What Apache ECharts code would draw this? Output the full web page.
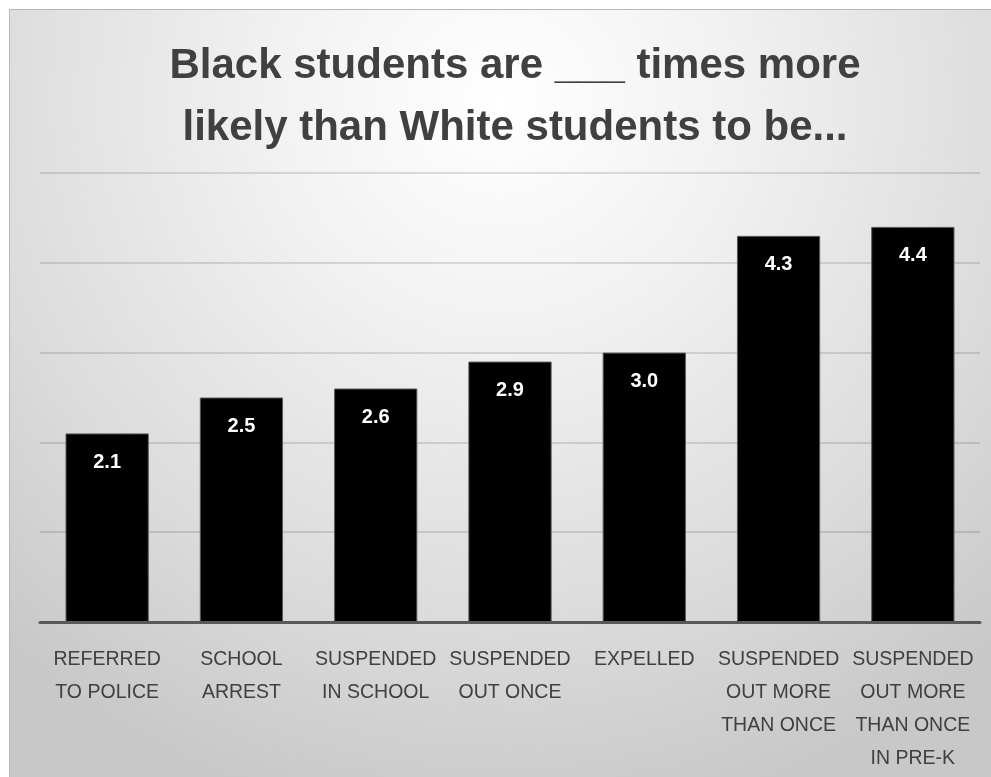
<!DOCTYPE html>
<html>
<head>
<meta charset="utf-8">
<script src="https://cdn.jsdelivr.net/npm/echarts@6/dist/echarts.min.js"></script>
<style>
  html, body { margin: 0; padding: 0; background: #ffffff; }
  #frame {
    position: absolute; left: 9px; top: 9px; width: 982px; height: 768px;
    border-left: 1px solid #b8b8b8; border-top: 1px solid #b8b8b8;
    box-sizing: border-box;
    background: radial-gradient(ellipse 75% 95% at 50% 12%, #ffffff 0%, #f2f2f2 30%, #dcdcdc 70%, #c8c8c8 100%);
  }
  #chart { position: absolute; left: 0; top: 0; width: 991px; height: 777px; }
</style>
</head>
<body>
<div id="frame"></div>
<div id="chart"></div>
<script>
// Disparity ratios by discipline outcome
const categories = [
  'REFERRED\nTO POLICE',
  'SCHOOL\nARREST',
  'SUSPENDED\nIN SCHOOL',
  'SUSPENDED\nOUT ONCE',
  'EXPELLED',
  'SUSPENDED\nOUT MORE\nTHAN ONCE',
  'SUSPENDED\nOUT MORE\nTHAN ONCE\nIN PRE-K'
];
const ratios = [2.1, 2.5, 2.6, 2.9, 3.0, 4.3, 4.4];
const titleText = 'Black students are ___ times more\nlikely than White students to be...';

const chart = echarts.init(document.getElementById('chart'), null, { renderer: 'canvas' });
chart.setOption({
  backgroundColor: 'transparent',
  animation: false,
  title: {
    text: titleText,
    left: 510,
    textAlign: 'center',
    top: 30,
    textStyle: {
      fontFamily: 'Liberation Sans',
      fontWeight: 'bold',
      fontSize: 42,
      lineHeight: 62,
      color: '#404040'
    }
  },
  grid: { left: 40, right: 11, top: 173, bottom: 155 },
  xAxis: {
    type: 'category',
    data: categories,
    axisTick: { show: false },
    axisLine: { lineStyle: { color: '#595959', width: 3 } },
    axisLabel: {
      interval: 0,
      margin: 21,
      fontFamily: 'Liberation Sans',
      fontSize: 19.5,
      lineHeight: 33,
      color: '#404040',
      verticalAlign: 'top'
    }
  },
  yAxis: {
    type: 'value',
    min: 0,
    max: 5,
    interval: 1,
    axisLabel: { show: false },
    axisLine: { show: false },
    axisTick: { show: false },
    splitLine: { lineStyle: { color: 'rgba(0,0,0,0.12)', width: 2 } }
  },
  series: [{
    type: 'bar',
    data: ratios,
    barWidth: '62%',
    itemStyle: { color: '#000000', borderColor: '#5a5a5a', borderWidth: 1 },
    label: {
      show: true,
      position: 'insideTop',
      distance: 19,
      formatter: p => p.value.toFixed(1),
      fontFamily: 'Liberation Sans',
      fontWeight: 'bold',
      fontSize: 20,
      color: '#ffffff'
    }
  }]
});
</script>
</body>
</html>
